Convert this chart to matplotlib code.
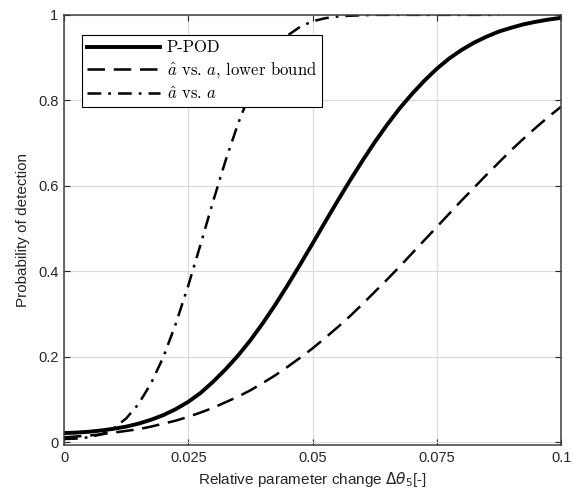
import numpy as np
import matplotlib
matplotlib.use("Agg")
import matplotlib.pyplot as plt
from matplotlib.font_manager import FontProperties

# sample positions (every 0.0025) and values
x_vals = np.linspace(0, 0.1, 41)
p_pod = [0.022, 0.023, 0.025, 0.028, 0.032, 0.037, 0.044, 0.053, 0.064, 0.078,
         0.095, 0.116, 0.142, 0.171, 0.203, 0.239, 0.279, 0.322, 0.368, 0.416,
         0.465, 0.515, 0.564, 0.612, 0.658, 0.702, 0.743, 0.781, 0.815, 0.846,
         0.874, 0.898, 0.918, 0.935, 0.949, 0.961, 0.970, 0.978, 0.984, 0.989, 0.993]
lower_bound = [0.012, 0.014, 0.016, 0.019, 0.023, 0.027, 0.031, 0.037, 0.044, 0.051,
               0.060, 0.070, 0.081, 0.094, 0.107, 0.122, 0.139, 0.157, 0.177, 0.198,
               0.220, 0.244, 0.269, 0.295, 0.323, 0.352, 0.381, 0.411, 0.442, 0.473,
               0.504, 0.535, 0.566, 0.596, 0.626, 0.655, 0.684, 0.711, 0.737, 0.762, 0.785]
ahat = [0.008, 0.009, 0.012, 0.019, 0.033, 0.056, 0.090, 0.138, 0.200, 0.278,
        0.367, 0.464, 0.564, 0.659, 0.745, 0.819, 0.877, 0.921, 0.952, 0.972,
        0.985, 0.992, 0.996, 0.998, 0.999, 1.0, 1.0, 1.0, 1.0, 1.0,
        1.0, 1.0, 1.0, 1.0, 1.0, 1.0]

xticks = [0, 0.025, 0.05, 0.075, 0.1]
xticklabels = ['0', '0.025', '0.05', '0.075', '0.1']
yticks = [0, 0.2, 0.4, 0.6, 0.8, 1]
yticklabels = ['0', '0.2', '0.4', '0.6', '0.8', '1']

plt.rcParams['font.family'] = ['Liberation Sans', 'DejaVu Sans']

fig = plt.figure(figsize=(5.74, 4.95), dpi=100)
ax = fig.add_axes([0.1115, 0.101, 0.866, 0.869])

ax.plot(x_vals, p_pod, color='k', lw=2.8, label='P-POD')
ax.plot(x_vals, lower_bound, color='k', lw=1.8,
        dashes=(7, 3.5), label=r'$\hat{a}$ vs. $a$, lower bound')
ax.plot(x_vals[:len(ahat)], ahat, color='k', lw=1.8,
        dashes=(5.5, 2.8, 1.1, 2.8), label=r'$\hat{a}$ vs. $a$')

ax.set_xlim(0, 0.1)
ax.set_ylim(-0.006, 1)
ax.set_xticks(xticks)
ax.set_xticklabels(xticklabels)
ax.set_yticks(yticks)
ax.set_yticklabels(yticklabels)
ax.tick_params(direction='in', top=True, right=True, length=4, width=0.8,
               labelsize=10.5, colors='#262626', pad=4)
ax.grid(True, color='#dcdcdc', lw=0.9)
ax.set_axisbelow(True)
for s in ax.spines.values():
    s.set_color('#404040')
    s.set_linewidth(1.1)

ax.set_ylabel('Probability of detection', fontsize=11, color='#262626', labelpad=6)
ax.set_xlabel(r'Relative parameter change $\Delta\theta_5$[-]', color='#262626',
              labelpad=4,
              fontproperties=FontProperties(family='Liberation Sans', size=11,
                                            math_fontfamily='dejavusans'))

leg_font = FontProperties(family='cmr10', size=12, math_fontfamily='cm')
leg = ax.legend(loc='upper left', bbox_to_anchor=(0.036, 0.953), prop=leg_font,
                fancybox=False, edgecolor='k', framealpha=1, handlelength=4.4,
                borderpad=0.3, labelspacing=0.3, handletextpad=0.4,
                borderaxespad=0)
leg.get_frame().set_linewidth(0.8)

fig.savefig('out.png', dpi=100)
